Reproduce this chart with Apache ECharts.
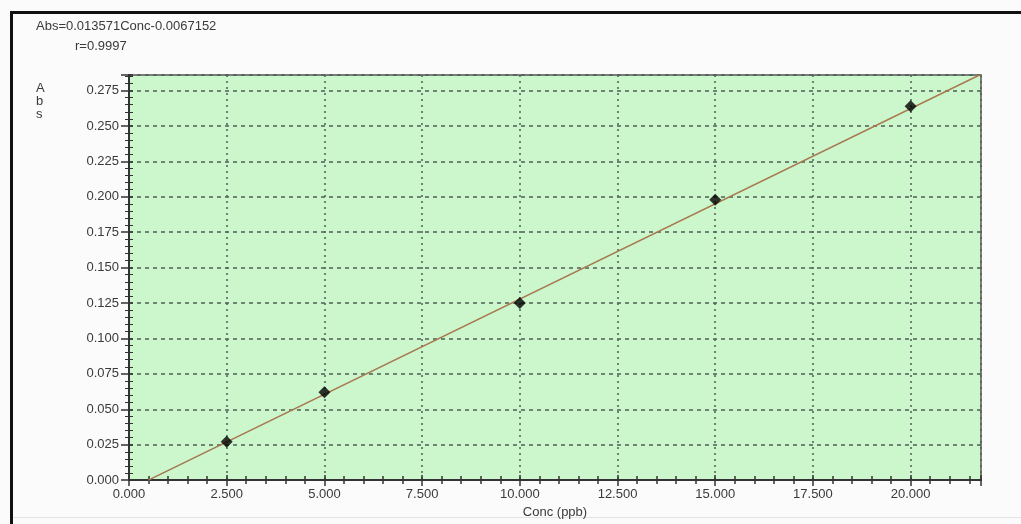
<!DOCTYPE html>
<html><head><meta charset="utf-8">
<script src="https://cdn.jsdelivr.net/npm/echarts@6/dist/echarts.min.js"></script>
<style>html,body{margin:0;padding:0;background:#fbfbfb}#c{width:1021px;height:524px}</style>
</head><body><div id="c"></div>
<script>
const equationText = 'Abs=0.013571Conc-0.0067152';
const rText = 'r=0.9997';
const yAxisLetters = ['A', 'b', 's'];
const xAxisName = 'Conc (ppb)';
const concValues = [2.5, 5, 10, 15, 20];
const absValues = [0.027, 0.062, 0.125, 0.198, 0.264];
const fitLineX = [0.495, 21.8];
const fitLineY = [0, 0.2865];
const xMin = 0, xMax = 21.8, xStep = 2.5;
const yMin = 0, yMax = 0.286, yStep = 0.025;

const chart = echarts.init(document.getElementById('c'));
const txt = '#3a3a3a';
const isTick = (v, step) => Math.abs(v / step - Math.round(v / step)) < 1e-6;
const pts = concValues.map((x, i) => [x, absValues[i]]);
const fit = fitLineX.map((x, i) => [x, fitLineY[i]]);

function xAx(inside, show) {
  return {
    type: 'value', min: xMin, max: xMax, interval: xStep, position: 'bottom',
    axisLine: { show: true, lineStyle: { color: '#333', width: 2 } },
    axisTick: { show: true, inside: inside, length: inside ? 5 : 6, lineStyle: { color: '#333', width: 1.5 } },
    minorTick: { show: true, splitNumber: 5, length: 4, lineStyle: { color: '#333', width: 1.5 } },
    axisLabel: { show: show, margin: 8, color: txt, fontFamily: 'Arial', fontSize: 13,
      formatter: v => isTick(v, xStep) ? v.toFixed(3) : '' },
    splitLine: { show: show, lineStyle: { color: '#4f5f55', type: [2, 4], width: 1.5 } },
    name: show ? xAxisName : '', nameLocation: 'middle', nameGap: 24,
    nameTextStyle: { color: txt, fontFamily: 'Arial', fontSize: 13 }
  };
}
function yAx(inside, show) {
  return {
    type: 'value', min: yMin, max: yMax, interval: yStep, position: 'left',
    axisLine: { show: true, lineStyle: { color: '#333', width: 2 } },
    axisTick: { show: true, inside: inside, length: inside ? 4 : 8, lineStyle: { color: '#333', width: 1.5 } },
    minorTick: { show: true, splitNumber: 5, length: 4, lineStyle: { color: '#333', width: 1 } },
    axisLabel: { show: show, margin: 10, color: txt, fontFamily: 'Arial', fontSize: 13,
      formatter: v => isTick(v, yStep) ? v.toFixed(3) : '' },
    splitLine: { show: show, lineStyle: { color: '#4f5f55', type: [4, 4], width: 1.5 } }
  };
}

chart.setOption({
  backgroundColor: '#fbfbfb',
  animation: false,
  grid: { left: 129, right: 40, top: 75, bottom: 43, show: true,
    backgroundColor: '#ccf7cc', borderColor: '#555', borderWidth: 1.5 },
  xAxis: [xAx(false, true), xAx(true, false)],
  yAxis: [yAx(false, true), yAx(true, false)],
  graphic: [
    { type: 'rect', shape: { x: 10, y: 11, width: 1011, height: 3 }, style: { fill: '#111' } },
    { type: 'rect', shape: { x: 10, y: 11, width: 3, height: 513 }, style: { fill: '#111' } },
    { type: 'rect', shape: { x: 13, y: 517, width: 1008, height: 1 }, style: { fill: '#e4e4e4' } },
    { type: 'text', left: 36, top: 20, style: { text: equationText, fill: txt, font: '13px Arial' } },
    { type: 'text', left: 75, top: 40, style: { text: rText, fill: txt, font: '13px Arial' } },
    { type: 'text', left: 36, top: 82, style: { text: yAxisLetters.join('\n'), fill: txt, font: '13px Arial', lineHeight: 13, align: 'center' } }
  ],
  series: [
    { type: 'line', data: fit, symbol: 'none', lineStyle: { color: '#a8784e', width: 1.6 }, clip: true, z: 3 },
    { type: 'scatter', data: pts, symbol: 'diamond', symbolSize: [12, 12], itemStyle: { color: '#000' }, z: 4 }
  ]
});
</script></body></html>
